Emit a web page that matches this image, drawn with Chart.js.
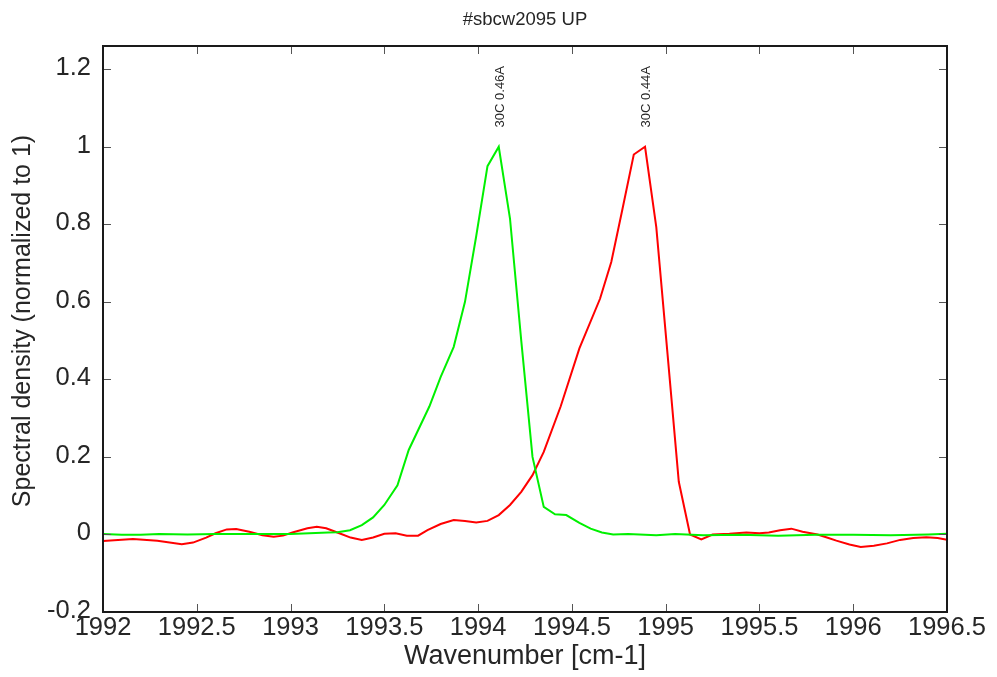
<!DOCTYPE html>
<html>
<head>
<meta charset="utf-8">
<title>#sbcw2095 UP</title>
<script src="https://cdn.jsdelivr.net/npm/chart.js@4.4.1/dist/chart.umd.min.js"></script>
<style>
  html, body { margin: 0; padding: 0; background: #ffffff; }
  #wrap { width: 997px; height: 677px; }
</style>
</head>
<body>
<div id="wrap"><canvas id="c" width="997" height="677"></canvas></div>
<script>
// Spectrum measured at 0.46 A (green trace)
const greenX = [1992.00, 1992.10, 1992.20, 1992.30, 1992.45, 1992.60, 1992.75, 1992.90, 1993.00, 1993.10,
  1993.20, 1993.25, 1993.317, 1993.38, 1993.44, 1993.50, 1993.57, 1993.63, 1993.74, 1993.80,
  1993.87, 1993.93, 1993.99, 1994.05, 1994.11, 1994.17, 1994.23, 1994.29, 1994.35, 1994.41,
  1994.47, 1994.54, 1994.60, 1994.66, 1994.72, 1994.80, 1994.95, 1995.05, 1995.20, 1995.40,
  1995.60, 1995.80, 1996.00, 1996.20, 1996.40, 1996.50];
const greenY = [0.001, -0.001, -0.001, 0.001, 0.000, 0.001, 0.001, 0.001, 0.001, 0.003,
  0.005, 0.006, 0.011, 0.024, 0.044, 0.076, 0.127, 0.218, 0.330, 0.406,
  0.484, 0.600, 0.770, 0.950, 1.000, 0.815, 0.500, 0.200, 0.071, 0.052,
  0.050, 0.030, 0.015, 0.005, 0.000, 0.001, -0.002, 0.001, -0.002, -0.001,
  -0.003, -0.001, -0.001, -0.002, 0.000, 0.002];

// Spectrum measured at 0.44 A (red trace)
const redX = [1992.00, 1992.16, 1992.29, 1992.42, 1992.48, 1992.55, 1992.60, 1992.66, 1992.71, 1992.78,
  1992.85, 1992.91, 1992.96, 1993.01, 1993.09, 1993.14, 1993.19, 1993.26, 1993.32, 1993.38,
  1993.44, 1993.50, 1993.56, 1993.62, 1993.68, 1993.73, 1993.80, 1993.87, 1993.93, 1993.99,
  1994.05, 1994.11, 1994.17, 1994.23, 1994.29, 1994.35, 1994.44, 1994.54, 1994.65, 1994.71,
  1994.77, 1994.83, 1994.89, 1994.95, 1995.01, 1995.07, 1995.13, 1995.19, 1995.25, 1995.34,
  1995.43, 1995.50, 1995.55, 1995.61, 1995.67, 1995.73, 1995.81, 1995.86, 1995.91, 1995.98,
  1996.04, 1996.11, 1996.18, 1996.25, 1996.32, 1996.39, 1996.45, 1996.50];
const redY = [-0.017, -0.012, -0.016, -0.025, -0.021, -0.008, 0.003, 0.013, 0.014, 0.007,
  -0.002, -0.006, -0.003, 0.005, 0.016, 0.020, 0.016, 0.003, -0.008, -0.014,
  -0.008, 0.002, 0.003, -0.003, -0.003, 0.011, 0.027, 0.037, 0.035, 0.031,
  0.035, 0.050, 0.076, 0.110, 0.153, 0.213, 0.330, 0.480, 0.608, 0.703,
  0.840, 0.980, 1.000, 0.793, 0.465, 0.136, 0.000, -0.013, 0.000, 0.002,
  0.005, 0.003, 0.005, 0.011, 0.015, 0.007, 0.000, -0.008, -0.016, -0.026,
  -0.032, -0.029, -0.023, -0.014, -0.009, -0.007, -0.009, -0.014];

// Axis ticks
const xTickValues = [1992, 1992.5, 1993, 1993.5, 1994, 1994.5, 1995, 1995.5, 1996, 1996.5];
const xTickLabels = ['1992', '1992.5', '1993', '1993.5', '1994', '1994.5', '1995', '1995.5', '1996', '1996.5'];
const yTickValues = [-0.2, 0, 0.2, 0.4, 0.6, 0.8, 1, 1.2];
const yTickLabels = ['-0.2', '0', '0.2', '0.4', '0.6', '0.8', '1', '1.2'];

// Peak annotations (current per trace)
const peakX = [1994.11, 1994.89];
const peakLabels = ['30C 0.46A', '30C 0.44A'];
const peakLabelY = 1.05;

const titleText = '#sbcw2095 UP';
const xTitle = 'Wavenumber [cm-1]';
const yTitle = 'Spectral density (normalized to 1)';

const FONT = "'Liberation Sans', Arial, Helvetica, sans-serif";
const INK = '#262626';

function toPoints(xs, ys) { return xs.map((x, i) => ({ x: x, y: ys[i] })); }

// Frame, inward tick marks, titles and peak labels
const decorations = {
  id: 'decorations',
  afterDatasetsDraw(chart) {
    const ctx = chart.ctx;
    const a = chart.chartArea;
    const xs = chart.scales.x, ys = chart.scales.y;
    ctx.save();
    // inward ticks on all four sides
    ctx.strokeStyle = '#555555';
    ctx.lineWidth = 1;
    ctx.beginPath();
    xTickValues.forEach(v => {
      const p = Math.round(xs.getPixelForValue(v)) + 0.5;
      ctx.moveTo(p, a.bottom); ctx.lineTo(p, a.bottom - 8);
      ctx.moveTo(p, a.top); ctx.lineTo(p, a.top + 8);
    });
    yTickValues.forEach(v => {
      const p = Math.round(ys.getPixelForValue(v)) + 0.5;
      ctx.moveTo(a.left, p); ctx.lineTo(a.left + 8, p);
      ctx.moveTo(a.right, p); ctx.lineTo(a.right - 8, p);
    });
    ctx.stroke();
    // frame
    ctx.strokeStyle = '#1a1a1a';
    ctx.lineWidth = 2;
    ctx.strokeRect(a.left, a.top, a.right - a.left, a.bottom - a.top);

    ctx.fillStyle = INK;
    // chart title
    ctx.font = '18.5px ' + FONT;
    ctx.textAlign = 'center';
    ctx.textBaseline = 'alphabetic';
    ctx.fillText(titleText, (a.left + a.right) / 2, 25);
    // x axis title
    ctx.font = '27px ' + FONT;
    ctx.fillText(xTitle, (a.left + a.right) / 2, 664);
    // y axis title
    ctx.font = '25px ' + FONT;
    ctx.save();
    ctx.translate(30, 321);
    ctx.rotate(-Math.PI / 2);
    ctx.fillText(yTitle, 0, 0);
    ctx.restore();
    // peak labels, vertical
    ctx.font = '13px ' + FONT;
    ctx.textAlign = 'left';
    ctx.textBaseline = 'middle';
    peakLabels.forEach((t, i) => {
      ctx.save();
      ctx.translate(xs.getPixelForValue(peakX[i]) + 1.5, ys.getPixelForValue(peakLabelY));
      ctx.rotate(-Math.PI / 2);
      ctx.fillText(t, 0, 0);
      ctx.restore();
    });
    ctx.restore();
  }
};

new Chart(document.getElementById('c'), {
  type: 'scatter',
  data: {
    datasets: [
      {
        label: '0.46A',
        data: toPoints(greenX, greenY),
        showLine: true,
        borderColor: '#00f000',
        borderWidth: 2,
        pointRadius: 0,
        tension: 0,
        fill: false
      },
      {
        label: '0.44A',
        data: toPoints(redX, redY),
        showLine: true,
        borderColor: '#ff0000',
        borderWidth: 2,
        pointRadius: 0,
        tension: 0,
        fill: false
      }
    ]
  },
  options: {
    responsive: false,
    animation: false,
    devicePixelRatio: 1,
    layout: { padding: { top: 46, right: 50, left: 0, bottom: 0 } },
    plugins: {
      legend: { display: false },
      tooltip: { enabled: false },
      title: { display: false }
    },
    scales: {
      x: {
        type: 'linear',
        min: 1992,
        max: 1996.5,
        grid: { display: false, drawTicks: false },
        border: { display: false },
        afterBuildTicks: s => { s.ticks = xTickValues.map(v => ({ value: v })); },
        afterFit: s => { s.height = 65; },
        ticks: {
          autoSkip: false,
          maxRotation: 0,
          minRotation: 0,
          padding: 1,
          color: INK,
          font: { family: FONT, size: 25.5 },
          callback: (v) => { const i = xTickValues.indexOf(v); return i >= 0 ? xTickLabels[i] : ''; }
        }
      },
      y: {
        type: 'linear',
        min: -0.2,
        max: 1.26,
        grid: { display: false, drawTicks: false },
        border: { display: false },
        afterBuildTicks: s => { s.ticks = yTickValues.map(v => ({ value: v })); },
        afterFit: s => { s.width = 103; },
        ticks: {
          autoSkip: false,
          padding: 12,
          labelOffset: -1,
          color: INK,
          font: { family: FONT, size: 25.5 },
          callback: (v) => { const i = yTickValues.indexOf(v); return i >= 0 ? yTickLabels[i] : ''; }
        }
      }
    }
  },
  plugins: [decorations]
});
</script>
</body>
</html>
